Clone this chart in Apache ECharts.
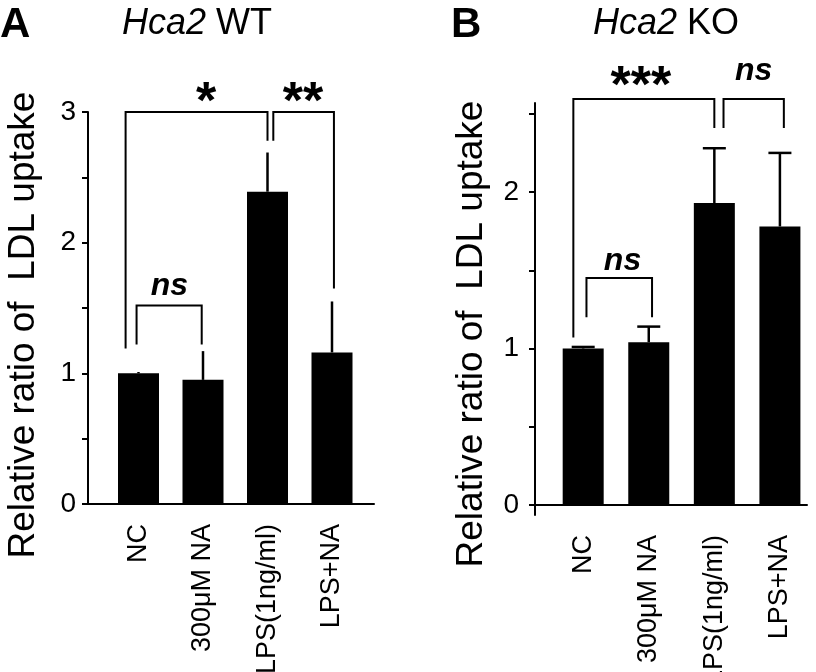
<!DOCTYPE html>
<html><head><meta charset="utf-8">
<script src="https://cdn.jsdelivr.net/npm/echarts@6/dist/echarts.min.js"></script>
<style>html,body{margin:0;padding:0;background:#fff}#c{width:816px;height:672px}</style>
</head><body><div id="c"></div>
<script>
// ---- data ----
const categories = ['NC', '300\u03bcM NA', 'LPS(1ng/ml)', 'LPS+NA'];
const wtMeans = [1.00, 0.95, 2.39, 1.16];
const wtErrTop = [1.01, 1.17, 2.69, 1.55];
const koMeans = [1.00, 1.04, 1.93, 1.78];
const koErrTop = [1.01, 1.14, 2.28, 2.25];
const wtTicks = [0, 0.5, 1, 1.5, 2, 2.5, 3];
const wtTickLabels = [0, 1, 2, 3];
const koTicks = [0, 0.5, 1, 1.5, 2, 2.5];
const koTickLabels = [0, 1, 2];
// brackets: [text, leftX, rightX, topY, leftLegEndY, rightLegEndY, textX, textY]  (x in category units, y in data units)
const wtBrackets = [
  ['*',  -0.20, 2.00, 3.00, 1.19, 2.78, 1.05, 3.14],
  ['**',  2.09, 3.03, 3.00, 2.78, 1.65, 2.55, 3.14],
  ['ns', -0.03, 0.98, 1.52, 1.22, 1.22, 0.48, 1.645]
];
const koBrackets = [
  ['***', -0.15, 2.00, 2.594, 1.07, 2.41, 0.88, 2.735],
  ['ns',   2.14, 3.06, 2.594, 2.41, 2.41, 2.60, 2.754],
  ['ns',   0.05, 1.05, 1.45, 1.20, 1.20, 0.60, 1.54]
];

const FONT = '"Liberation Sans", Arial, Helvetica, sans-serif';
const chart = echarts.init(document.getElementById('c'), null, {renderer: 'canvas'});

function frameY(idx, min, max, ticks, labels, gap, lblMargin, shift) {
  return {
    type: 'value', gridIndex: idx, min: min, max: max,
    name: 'Relative ratio of  LDL uptake', nameLocation: 'middle', nameRotate: 90, nameGap: gap,
    nameTextStyle: {fontFamily: FONT, fontSize: 37, color: '#000', padding: [0, shift, 0, 0]},
    axisLine: {show: true, lineStyle: {color: '#000', width: 2}},
    axisTick: {show: true, length: 6, lineStyle: {color: '#000', width: 2}, customValues: ticks},
    axisLabel: {show: true, margin: lblMargin, fontFamily: FONT, fontSize: 28, color: '#000', customValues: labels},
    splitLine: {show: false}
  };
}
function frameX(idx) {
  return {
    type: 'value', gridIndex: idx, min: 0, max: 1,
    axisLine: {show: true, onZero: true, lineStyle: {color: '#000', width: 2}},
    axisTick: {show: false}, axisLabel: {show: false}, splitLine: {show: false}
  };
}
function barX(idx) {
  return {
    type: 'category', gridIndex: idx, data: categories,
    axisLine: {show: false}, axisTick: {show: false},
    axisLabel: {show: true, rotate: 90, margin: 20, interval: 0, fontFamily: FONT, fontSize: 27, color: '#000'}
  };
}
function barY(idx, min, max) {
  return {type: 'value', gridIndex: idx, min: min, max: max, show: false, splitLine: {show: false}};
}

function errRender(cap) {
  return function (params, api) {
    const p0 = api.coord([api.value(0), api.value(1)]);
    const p1 = api.coord([api.value(0), api.value(2)]);
    const children = [{type: 'line', shape: {x1: p0[0], y1: p0[1], x2: p1[0], y2: p1[1]}, style: {stroke: '#000', lineWidth: 2.5}}];
    if (cap) children.push({type: 'line', shape: {x1: p1[0] - 11.5, y1: p1[1], x2: p1[0] + 11.5, y2: p1[1]}, style: {stroke: '#000', lineWidth: 2.5}});
    return {type: 'group', children: children};
  };
}
function bracketRender(params, api) {
  const c0 = api.coord([0, 0])[0], c1 = api.coord([1, 0])[0];
  const bw = c1 - c0;
  const X = v => c0 + v * bw;
  const Y = v => api.coord([0, v])[1];
  const txt = api.value(0);
  const xl = X(api.value(1)), xr = X(api.value(2));
  const yt = Y(api.value(3)), yl = Y(api.value(4)), yr = Y(api.value(5));
  const tx = X(api.value(6)), ty = Y(api.value(7));
  const isNs = txt === 'ns';
  const fs = isNs ? 32 : 52;
  const yMid = isNs ? ty - 0.09 * fs : ty + 0.2 * fs;
  return {
    type: 'group', children: [
      {type: 'polyline', shape: {points: [[xl, yl], [xl, yt], [xr, yt], [xr, yr]]}, style: {stroke: '#000', lineWidth: 2, fill: null}},
      {type: 'text', x: tx, y: yMid, style: {text: txt, fill: '#000', align: 'center', verticalAlign: 'middle',
        font: (isNs ? 'italic bold ' : 'bold ') + fs + 'px ' + FONT}}
    ]
  };
}

const wtMin = 0, wtMax = 3;
const koMin = -0.064, koMax = 2.569;
const gridBase = {outerBoundsMode: 'none', containLabel: false};

chart.setOption({
  animation: false,
  backgroundColor: '#fff',
  title: [
    {text: 'A', left: 0, top: 4, padding: 0, textStyle: {fontFamily: FONT, fontSize: 42, fontWeight: 'bold', color: '#000'}},
    {text: '{i|Hca2} WT', left: 122, top: 6, padding: 0, textStyle: {fontFamily: FONT, fontSize: 36, fontWeight: 'normal', color: '#000',
      rich: {i: {fontFamily: FONT, fontSize: 36, fontStyle: 'italic', color: '#000'}}}},
    {text: 'B', left: 451, top: 4, padding: 0, textStyle: {fontFamily: FONT, fontSize: 42, fontWeight: 'bold', color: '#000'}},
    {text: '{i|Hca2} KO', left: 593, top: 6, padding: 0, textStyle: {fontFamily: FONT, fontSize: 36, fontWeight: 'normal', color: '#000',
      rich: {i: {fontFamily: FONT, fontSize: 36, fontStyle: 'italic', color: '#000'}}}}
  ],
  grid: [
    Object.assign({left: 88, top: 112, width: 286, height: 392}, gridBase),
    Object.assign({left: 106.25, top: 112, width: 258, height: 392}, gridBase),
    Object.assign({left: 535, top: 103, width: 272, height: 412}, gridBase),
    Object.assign({left: 550.4, top: 103, width: 262.3, height: 412}, gridBase)
  ],
  xAxis: [frameX(0), barX(1), frameX(2), barX(3)],
  yAxis: [
    frameY(0, wtMin, wtMax, wtTicks, wtTickLabels, 46, 12, 34),
    barY(1, wtMin, wtMax),
    frameY(2, koMin, koMax, koTicks, koTickLabels, 45, 16, 50),
    barY(3, koMin, koMax)
  ],
  series: [
    {type: 'bar', xAxisIndex: 1, yAxisIndex: 1, data: wtMeans, barWidth: 41, itemStyle: {color: '#000'}, silent: true},
    {type: 'custom', xAxisIndex: 1, yAxisIndex: 1, renderItem: errRender(false), clip: false,
      data: wtMeans.map((v, i) => [i, v, wtErrTop[i]])},
    {type: 'custom', xAxisIndex: 1, yAxisIndex: 1, renderItem: bracketRender, clip: false,
      data: wtBrackets, dimensions: ['t', 'a', 'b', 'c', 'd', 'e', 'f', 'g'], encode: {x: 1, y: 3}},
    {type: 'bar', xAxisIndex: 3, yAxisIndex: 3, data: koMeans, barWidth: 41, itemStyle: {color: '#000'}, silent: true},
    {type: 'custom', xAxisIndex: 3, yAxisIndex: 3, renderItem: errRender(true), clip: false,
      data: koMeans.map((v, i) => [i, v, koErrTop[i]])},
    {type: 'custom', xAxisIndex: 3, yAxisIndex: 3, renderItem: bracketRender, clip: false,
      data: koBrackets, dimensions: ['t', 'a', 'b', 'c', 'd', 'e', 'f', 'g'], encode: {x: 1, y: 3}}
  ]
});
</script></body></html>
